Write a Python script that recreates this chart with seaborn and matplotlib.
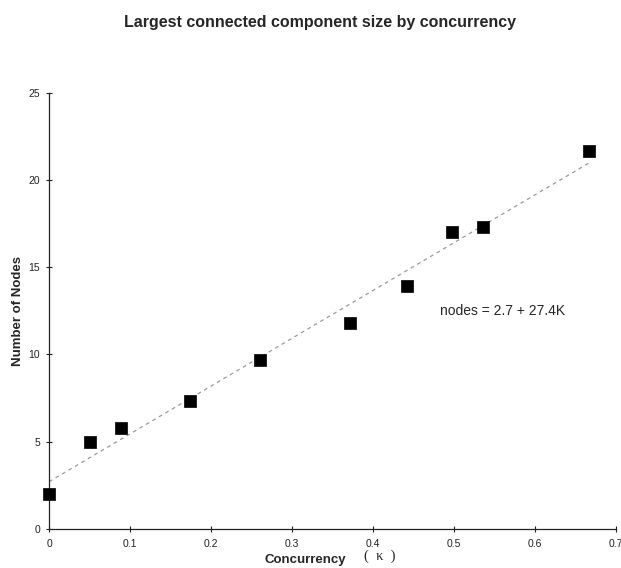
import numpy as np
import pandas as pd
import matplotlib
matplotlib.use("Agg")
import matplotlib.pyplot as plt
import seaborn as sns

# concurrency (kappa) vs size of largest connected component
concurrency = [0.0, 0.05, 0.089, 0.174, 0.261, 0.371, 0.442, 0.497, 0.536, 0.667]
nodes = [2.0, 5.0, 5.75, 7.35, 9.7, 11.8, 13.9, 17.0, 17.3, 21.65]

# fitted line: nodes = 2.7 + 27.4 * kappa
fit_intercept = 2.7
fit_slope = 27.4
fit_range = [0.0, 0.667]

x_ticks = [0, 0.1, 0.2, 0.3, 0.4, 0.5, 0.6, 0.7]
x_labels = ["0", "0.1", "0.2", "0.3", "0.4", "0.5", "0.6", "0.7"]
y_ticks = [0, 5, 10, 15, 20, 25]

df = pd.DataFrame({"concurrency": concurrency, "nodes": nodes})
fit = pd.DataFrame({"x": fit_range})
fit["y"] = fit_intercept + fit_slope * fit["x"]

sns.set_style("ticks")
plt.rcParams["font.family"] = ["Liberation Sans", "DejaVu Sans"]

fig = plt.figure(figsize=(6.21, 5.68), dpi=100)
ax = fig.add_axes([0.079, 0.069, 0.913, 0.768])

sns.lineplot(data=fit, x="x", y="y", ax=ax, color="#9a9a9a",
             linewidth=0.9, linestyle=(0, (3, 3)))
sns.scatterplot(data=df, x="concurrency", y="nodes", ax=ax, marker="s",
                s=75, color="black", edgecolor="black", linewidth=0.5,
                clip_on=False, zorder=3)

ax.set_xlim(0, 0.7)
ax.set_ylim(0, 25)
ax.set_xticks(x_ticks)
ax.set_xticklabels(x_labels)
ax.set_yticks(y_ticks)
ax.tick_params(axis="both", direction="inout", length=5, width=0.8,
               labelsize=7.5, colors="#222222")
ax.tick_params(axis="x", pad=5)
ax.tick_params(axis="y", pad=4)
for side in ["top", "right"]:
    ax.spines[side].set_visible(False)
for side in ["left", "bottom"]:
    ax.spines[side].set_linewidth(0.9)
    ax.spines[side].set_color("#222222")

ax.set_xlabel("")
ax.set_ylabel("Number of Nodes", fontsize=9.5, fontweight="bold", labelpad=3)

ax.text(0.483, 12.5, "nodes = 2.7 + 27.4K", fontsize=10, ha="left", va="center")

fig.text(0.515, 0.961, "Largest connected component size by concurrency",
         ha="center", va="center", fontsize=11.5, fontweight="bold")
fig.text(0.492, 0.003, "Concurrency", ha="center", va="bottom",
         fontsize=9.5, fontweight="bold")
fig.text(0.612, 0.008, "(  \u03ba  )", ha="center", va="bottom", fontsize=10.5,
         family=["Liberation Serif", "DejaVu Serif"])

fig.savefig("out.png", dpi=100)
